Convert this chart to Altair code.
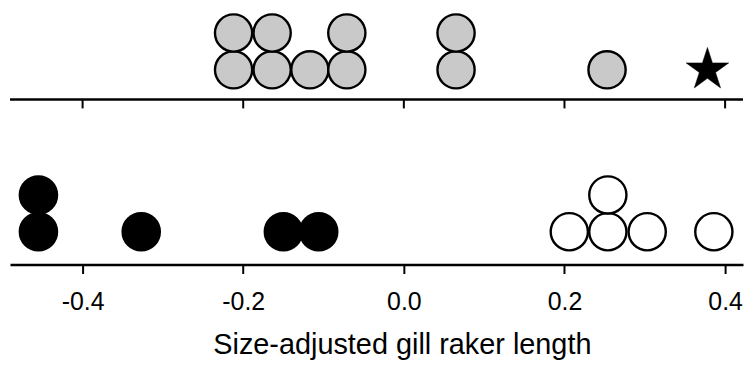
import altair as alt
import pandas as pd

# Top panel: stippled (gray) fish, stacked dot plot (level = stack position)
gray_x = [-0.212, -0.212, -0.164, -0.164, -0.117, -0.071, -0.071, 0.065, 0.065, 0.253]
gray_level = [0, 1, 0, 1, 0, 0, 1, 0, 1, 0]
star_x = [0.378]
star_level = [0]

# Bottom panel: black and white fish
black_x = [-0.455, -0.455, -0.327, -0.150, -0.106]
black_level = [0, 1, 0, 0, 0]
white_x = [0.206, 0.254, 0.254, 0.303, 0.386]
white_level = [0, 0, 1, 0, 0]

tick_values = [-0.4, -0.2, 0.0, 0.2, 0.4]
x_title = "Size-adjusted gill raker length"

# ---- layout constants ----
FONT = "Liberation Sans"
W, H = 737, 254
XDOM = [-0.4904, 0.4223]
YDOM = [-0.892, 5.973]      # in stack-level units (37 px each)
TOP_BASE = 4.40             # vertical offset of the upper panel
TOP_AXIS = 3.595            # position of the upper panel's axis line
TICK_LEN = 9 / 37

STAR_PATH = ("M0,-1L0.2245,-0.309L0.951,-0.309L0.363,0.118L0.588,0.809"
             "L0,0.382L-0.588,0.809L-0.363,0.118L-0.951,-0.309L-0.2245,-0.309Z")

gray_df = pd.DataFrame({"x": gray_x, "y": [l + TOP_BASE for l in gray_level]})
star_df = pd.DataFrame({"x": star_x, "y": [l + TOP_BASE for l in star_level]})
black_df = pd.DataFrame({"x": black_x, "y": black_level})
white_df = pd.DataFrame({"x": white_x, "y": white_level})
top_line_df = pd.DataFrame({"x0": [XDOM[0]], "x1": [XDOM[1]], "y": [TOP_AXIS]})
top_ticks_df = pd.DataFrame({"x": tick_values, "y": [TOP_AXIS] * len(tick_values),
                             "y2": [TOP_AXIS - TICK_LEN] * len(tick_values)})

xscale = alt.Scale(domain=XDOM, nice=False, zero=False)
yscale = alt.Scale(domain=YDOM, nice=False, zero=False)
xaxis = alt.Axis(values=tick_values, format=".1f", grid=False,
                 labelExpr="replace(datum.label, '\u2212', '-')",
                 domainColor="black", domainWidth=2.5,
                 tickColor="black", tickWidth=2, tickSize=9,
                 labelFont=FONT, labelFontSize=25, labelColor="black",
                 labelPadding=16,
                 titleFont=FONT, titleFontSize=29, titleFontWeight="normal",
                 titleColor="black", titlePadding=16,
                 titleX=394, titleAlign="center")

def X(field):
    return alt.X(field, type="quantitative", scale=xscale, axis=xaxis, title=x_title)

def Y(field):
    return alt.Y(field, type="quantitative", scale=yscale, axis=None)

SIZE = 1400

top_line = alt.Chart(top_line_df).mark_rule(color="black", strokeWidth=2.5).encode(
    x=X("x0"), x2="x1", y=Y("y"))
top_ticks = alt.Chart(top_ticks_df).mark_rule(color="black", strokeWidth=2).encode(
    x=X("x"), y=Y("y"), y2="y2")

gray = alt.Chart(gray_df).mark_point(
    shape="circle", filled=True, fill="#c9c9c9", stroke="black",
    strokeWidth=2.4, size=SIZE, opacity=1).encode(x=X("x"), y=Y("y"))
star = alt.Chart(star_df).mark_point(
    shape=STAR_PATH, filled=True, fill="black", stroke="black",
    strokeWidth=0.5, size=2025, opacity=1).encode(x=X("x"), y=Y("y"))
black = alt.Chart(black_df).mark_point(
    shape="circle", filled=True, fill="black", stroke="black",
    strokeWidth=2.4, size=SIZE, opacity=1).encode(x=X("x"), y=Y("y"))
white = alt.Chart(white_df).mark_point(
    shape="circle", filled=True, fill="white", stroke="black",
    strokeWidth=2.4, size=SIZE, opacity=1).encode(x=X("x"), y=Y("y"))

chart = alt.layer(top_line, top_ticks, gray, star, black, white).properties(
    width=W, height=H, padding=0
).configure_view(strokeWidth=0)

chart.save("out.html", embed_options={"renderer": "svg", "actions": False})
